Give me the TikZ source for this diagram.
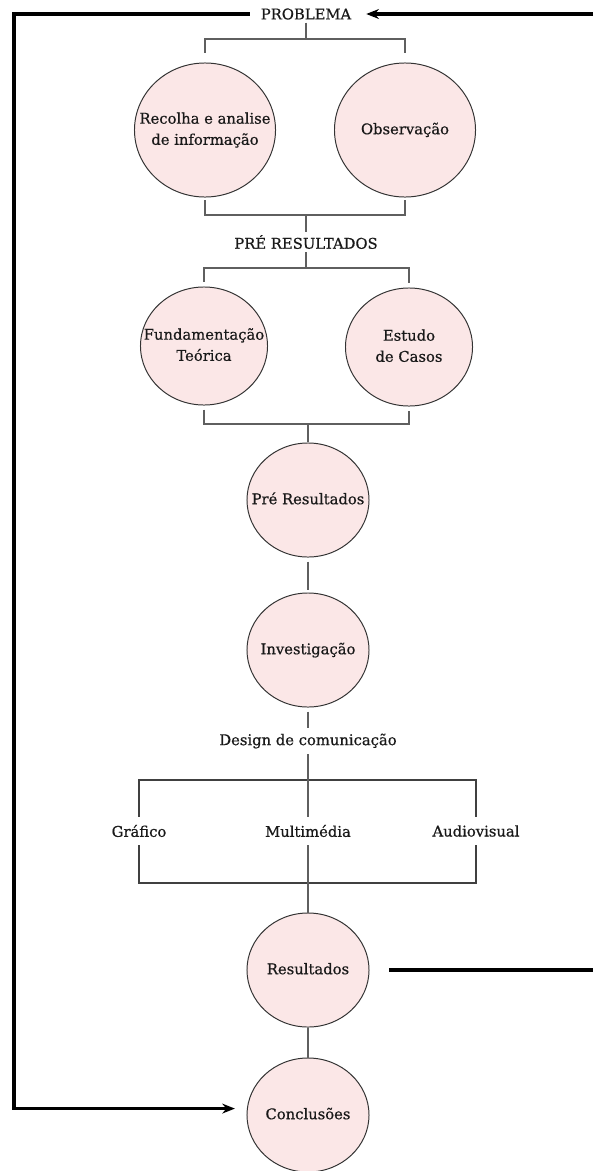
\documentclass[tikz,border=0pt]{standalone}
\usepackage{fontspec}
\setmainfont{DejaVu Serif}[FakeBold=0.6]
\usetikzlibrary{shapes.geometric,arrows.meta}
\definecolor{bubblepink}{RGB}{251,231,231}
\definecolor{linkgray}{RGB}{95,95,95}
\newcommand{\bubtext}[1]{\makebox[0pt]{\begin{tabular}{@{}c@{}}#1\end{tabular}}}

\begin{document}
\begin{tikzpicture}[x=0.025cm,y=-0.025cm,font=\fontsize{10.5}{15}\selectfont]
\tikzstyle{every node}=[text=black!90]
\tikzstyle{bubble}=[ellipse,draw=black!80,line width=0.7pt,fill=bubblepink,inner sep=0pt,minimum width=3.05cm,minimum height=2.85cm]
\tikzstyle{bigbub}=[minimum width=3.525cm,minimum height=3.35cm]
\tikzstyle{midbub}=[minimum width=3.175cm,minimum height=2.95cm]
\tikzstyle{lbl}=[inner sep=2pt]
\tikzstyle{link}=[draw=linkgray,line width=1pt]
\tikzstyle{box}=[draw=black!75,line width=0.8pt]
\tikzstyle{back}=[draw=black,line width=2.2pt]
\useasboundingbox (0,0) rectangle (593,1171);

\node[lbl] (prob) at (306,14) {PROBLEMA};
\node[bubble,bigbub] (rec) at (205,130) {\bubtext{Recolha e analise\\de informação}};
\node[bubble,bigbub] (obs) at (405,130) {\bubtext{Observação}};
\node[lbl] (pre) at (306,242) {PRÉ RESULTADOS};
\node[bubble,midbub] (fund) at (204,346) {\bubtext{Fundamentação\\Teórica}};
\node[bubble,midbub] (est) at (409,347) {\bubtext{Estudo\\de Casos}};
\node[bubble] (preres) at (308,500) {\bubtext{Pré Resultados}};
\node[bubble] (inv) at (308,650) {\bubtext{Investigação}};
\node[lbl,inner sep=4pt] (design) at (308,741) {Design de comunicação};
\node[lbl,inner sep=5.5pt] (graf) at (139,831) {Gráfico};
\node[lbl,inner sep=5.5pt] (multi) at (308,831) {Multimédia};
\node[lbl,inner sep=5.5pt] (audio) at (476,831) {Audiovisual};
\node[bubble] (res) at (308,970) {\bubtext{Resultados}};
\node[bubble] (conc) at (308,1115) {\bubtext{Conclusões}};
\coordinate (rtop) at (593,14);
\coordinate (rlow) at (593,970);

\draw[link,shorten >=7pt] (prob) -- (306,39) -| (rec);
\draw[link,shorten >=7pt] (306,39) -| (obs);
\draw[link,shorten <=2pt,shorten >=2pt] (rec) |- (306,215) -| (obs);
\draw[link] (306,215) -- (pre);
\draw[link,shorten >=3.5pt] (pre) -- (306,268) -| (fund);
\draw[link,shorten >=3.5pt] (306,268) -| (est);
\draw[link,shorten <=3pt,shorten >=3pt] (fund) |- (308,424) -| (est);
\draw[link] (308,424) -- (preres);
\draw[link,shorten <=3pt,shorten >=2pt] (preres) -- (inv);
\draw[link,shorten <=3pt] (inv) -- (design);
\draw[box] (graf) |- (308,780) -| (audio);
\draw[box] (graf) |- (308,883) -| (audio);
\draw[link] (design) -- (multi);
\draw[link] (multi) -- (res);
\draw[link] (res) -- (conc);

\draw[back,-{Stealth[length=9pt,width=7pt]},shorten >=8.5pt] (rtop) -- (prob);
\draw[back,-{Stealth[length=9pt,width=7pt]},shorten <=5.5pt,shorten >=8.5pt] (prob) -- (14,14) |- (conc.174);
\draw[back,shorten <=14pt] (res) -- (rlow);
\end{tikzpicture}
\end{document}
